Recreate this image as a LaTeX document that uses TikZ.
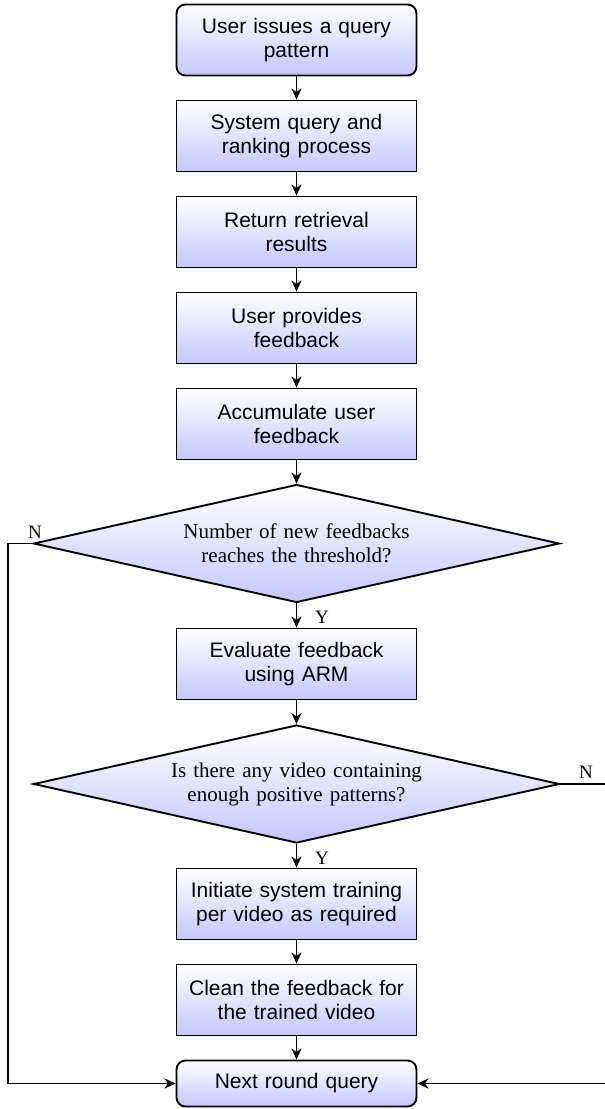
\documentclass[tikz,border=0pt]{standalone}
\usepackage{fontspec}
\setmainfont{Liberation Serif}
\setsansfont{Liberation Sans}
\usetikzlibrary{shapes.geometric,arrows.meta}
\definecolor{lav}{RGB}{198,198,255}
\tikzset{
 base/.style={draw=black, line width=1.9pt, top color=white, bottom color=lav,
   font=\sffamily\fontsize{21}{24}\selectfont, align=center, text width=225pt,
   minimum width=240pt, minimum height=71pt, inner sep=0pt},
 proc/.style={base, rectangle},
 term/.style={base, rectangle, rounded corners=9pt},
 dec/.style={diamond, draw=black, line width=1.9pt, top color=white, bottom color=lav,
   font=\rmfamily\fontsize{21}{24}\selectfont, align=center, text width=300pt,
   minimum width=526pt, minimum height=118pt, inner sep=0pt, aspect=4.4},
 arr/.style={line width=1.9pt, -{Stealth[length=11pt,width=10pt,inset=3.5pt]}},
 lbl/.style={font=\rmfamily\fontsize{19}{20}\selectfont, inner sep=0pt}
}
\begin{document}
\begin{tikzpicture}[x=1pt,y=-1pt]
\useasboundingbox (0,0) rectangle (605,1109);
\node[term] (b1) at (296.5,40) {User issues a query\\pattern};
\node[proc] (b2) at (296.5,136) {System query and\\ranking process};
\node[proc] (b3) at (296.5,232) {Return retrieval\\results};
\node[proc] (b4) at (296.5,328) {User provides\\feedback};
\node[proc] (b5) at (296.5,424) {Accumulate user\\feedback};
\node[dec] (d1) at (296.5,543.5) {Number of new feedbacks\\reaches the threshold?};
\node[proc] (b6) at (296.5,664) {Evaluate feedback\\using ARM};
\node[dec] (d2) at (296.5,784) {Is there any video containing\\enough positive patterns?};
\node[proc] (b7) at (296.5,904) {Initiate system training\\per video as required};
\node[proc] (b8) at (296.5,1000) {Clean the feedback for\\the trained video};
\node[term, minimum height=46pt] (b9) at (296.5,1083.5) {Next round query};
\draw[arr] (b1) -- (b2);
\draw[arr] (b2) -- (b3);
\draw[arr] (b3) -- (b4);
\draw[arr] (b4) -- (b5);
\draw[arr] (b5) -- (d1);
\draw[arr] (d1) -- (b6);
\draw[arr] (b6) -- (d2);
\draw[arr] (d2) -- (b7);
\draw[arr] (b7) -- (b8);
\draw[arr] (b8) -- (b9);
\coordinate (lc) at (8,543.5);
\coordinate (rc) at (606,784);
\draw[arr] (d1.west) -- (lc) |- (b9.west);
\draw[arr] (d2.east) -- (rc) |- (b9.east);
\node[lbl] (n1) at (35,532) {N};
\node[lbl] (n2) at (586,772) {N};
\node[lbl] (y1) at (322,617) {Y};
\node[lbl] (y2) at (322,858) {Y};
\end{tikzpicture}
\end{document}
